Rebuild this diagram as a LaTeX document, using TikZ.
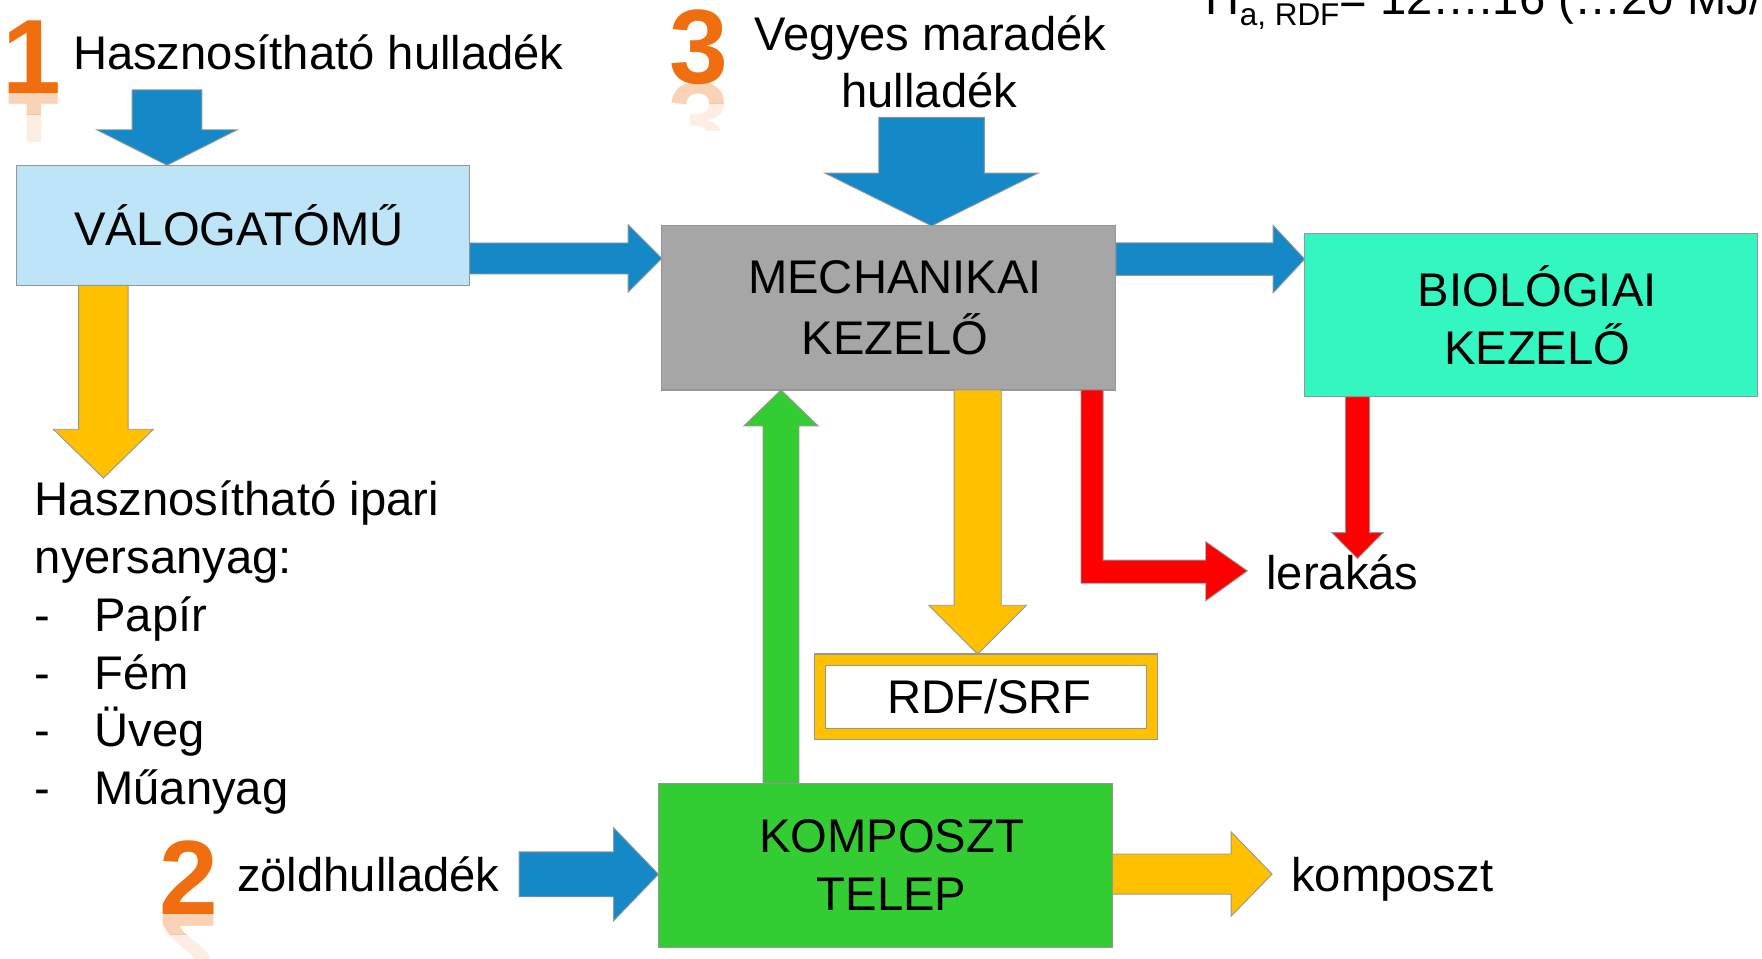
\documentclass[tikz,border=0pt]{standalone}
\usepackage{fontspec}
\setmainfont{Liberation Sans}
\usepackage{graphicx}
\usetikzlibrary{calc}
\definecolor{ablue}{RGB}{21,137,200}
\definecolor{ayellow}{RGB}{255,192,0}
\definecolor{agreen}{RGB}{51,204,51}
\definecolor{ared}{RGB}{255,0,0}
\definecolor{valoblue}{RGB}{189,228,247}
\definecolor{mechgray}{RGB}{166,166,166}
\definecolor{bioaqua}{RGB}{51,246,193}
\definecolor{edgegray}{RGB}{150,150,150}
\definecolor{digitorange}{RGB}{240,110,15}
\newcommand\fs{\fontsize{21}{26}\selectfont}
\newcommand\dashitem[1]{\makebox[26.5pt][l]{-}#1}
\newcommand\rs{\hspace*{5.5pt}}
\tikzset{
  box/.style={draw=edgegray, line width=0.5pt, inner sep=0pt, outer sep=0pt, align=center, font=\fs},
  lbl/.style={inner sep=0pt, outer sep=0pt, font=\fs},
  digit/.style={inner sep=0pt, outer sep=0pt, font=\fontsize{47}{47}\selectfont\bfseries, text=digitorange},
  arrowedge/.style={draw=edgegray, line width=0.4pt, line join=miter},
}
% #1 colour, #2 from, #3 to (tip), #4 shaft half width, #5 head half width, #6 head length
\newcommand\blockarrow[6]{%
  \path (#2) coordinate (ba) (#3) coordinate (bb);
  \path ($(bb)!#6!(ba)$) coordinate (bh);
  \filldraw[arrowedge, fill=#1] ($(ba)!#4!90:(bb)$) -- ($(bh)!#4!90:(bb)$) -- ($(bh)!#5!90:(bb)$) -- (bb)
    -- ($(bh)!#5!-90:(bb)$) -- ($(bh)!#4!-90:(bb)$) -- ($(ba)!#4!-90:(bb)$) -- cycle;
}
% #1 name, #2 base point, #3 digit
\newcommand\digitrefl[3]{%
  \node[digit, anchor=base] (#1) at (#2) {#3};
  \begin{scope}
    \clip ($(#2)+(-40,0)$) rectangle ($(#2)+(40,18)$);
    \node[digit, anchor=base, opacity=0.3] (#1ra) at (#2) {\scalebox{1}[-1]{#3}};
  \end{scope}
  \begin{scope}
    \clip ($(#2)+(-40,18)$) rectangle ($(#2)+(40,42)$);
    \node[digit, anchor=base, opacity=0.12] (#1rb) at (#2) {\scalebox{1}[-1]{#3}};
  \end{scope}
}
\begin{document}
\begin{tikzpicture}[x=0.5pt,y=-0.5pt]
\useasboundingbox (0,0) rectangle (1568,853);

% boxes
\node[box, fill=valoblue, minimum width=201.5pt, minimum height=53.5pt] (valo) at (216.5,200.5) {VÁLOGATÓMŰ\hspace*{4pt}};
\node[box, fill=mechgray, minimum width=202pt, minimum height=73pt] (mech) at (791,274) {\rs MECHANIKAI\\[1pt]\rs KEZELŐ};
\node[box, fill=bioaqua, minimum width=201.5pt, minimum height=72.5pt] (bio) at (1362.5,280.5) {\rs BIOLÓGIAI\\\rs KEZELŐ};
\node[box, fill=agreen, minimum width=202pt, minimum height=73pt] (komp) at (788,770) {\rs KOMPOSZT\\\rs TELEP};
\node[box, fill=ayellow, minimum width=152.5pt, minimum height=38pt,
  path picture={\draw[fill=white, draw=edgegray, line width=0.5pt]
    ([shift={(4.8pt,-5pt)}]path picture bounding box.north west) rectangle
    ([shift={(-4.8pt,5pt)}]path picture bounding box.south east);}] (rdf) at (877.5,620) {\hspace*{3pt}RDF/SRF};

% labels
\digitrefl{d1}{28,83.5}{1}
\node[lbl, anchor=base west] (hh) at (65,62) {Hasznosítható hulladék};
\digitrefl{d3}{621.5,74}{3}
\node[lbl, anchor=base] (veg1) at (828,45) {Vegyes maradék};
\node[lbl, anchor=base] (veg2) at (827,96) {hulladék};
\digitrefl{d2}{168,813.6}{2}
\node[lbl, anchor=base west] (zold) at (211,793.5) {zöldhulladék};
\node[lbl, anchor=base west] (komposzt) at (1149,793.5) {komposzt};
\node[lbl, anchor=base west] (lerakas) at (1127,525) {lerakás};
\node[lbl, anchor=base west] (ip1) at (31,459) {Hasznosítható ipari};
\node[lbl, anchor=base west] (ip2) at (31,510.5) {nyersanyag:};
\node[lbl, anchor=base west] (ip3) at (31,561.7) {\dashitem{Papír}};
\node[lbl, anchor=base west] (ip4) at (31,613.2) {\dashitem{Fém}};
\node[lbl, anchor=base west] (ip5) at (31,664.6) {\dashitem{Üveg}};
\node[lbl, anchor=base west] (ip6) at (31,716) {\dashitem{Műanyag}};
\begin{scope}
  \clip (0,0) rectangle (1568,853);
  \node[lbl, anchor=base west] (hrdf) at (1073,13) {H\raisebox{-5pt}{\fontsize{14}{14}\selectfont a, RDF}= 12….16 (…20 MJ/kg)};
\end{scope}

% free ends
\coordinate (in1) at (148.6,80);
\coordinate (in3) at (829,104.5);
\coordinate (in2) at (462,778);
\coordinate (out1) at (92,425.5);
\coordinate (out4) at (1132,777.8);
\coordinate (out5) at (1208,497);
\coordinate (xr) at (870,0);
\coordinate (xg) at (695,0);
\coordinate (xb) at (1208,0);
\coordinate (yvm) at (0,230);
\coordinate (ymb) at (0,230.6);
\coordinate (yk) at (0,777.8);
\coordinate (ltip) at (1110,508);

% arrows
\blockarrow{ablue}{in1}{valo.north -| in1}{15.5pt}{31.25pt}{15.75pt}
\blockarrow{ablue}{in3}{mech.north -| in3}{23.5pt}{47.5pt}{23.5pt}
\blockarrow{ablue}{valo.east |- yvm}{mech.west |- yvm}{6.9pt}{15pt}{15pt}
\blockarrow{ablue}{mech.east |- ymb}{bio.west |- ymb}{7.25pt}{15pt}{14pt}
\blockarrow{ayellow}{valo.south -| out1}{out1}{11pt}{22.25pt}{21.75pt}
\blockarrow{ayellow}{mech.south -| xr}{rdf.north -| xr}{10.5pt}{21.75pt}{21.7pt}
\blockarrow{agreen}{komp.north -| xg}{mech.south -| xg}{8pt}{16.5pt}{16pt}
\blockarrow{ared}{bio.south -| xb}{out5}{5.4pt}{11.4pt}{11.5pt}
\blockarrow{ablue}{in2}{komp.west |- in2}{10pt}{20.75pt}{20pt}
\blockarrow{ayellow}{komp.east |- yk}{out4}{8.9pt}{18.75pt}{18.2pt}
% red L-shaped arrow
\filldraw[arrowedge, fill=ared] (mech.south -| 962,0) -- (962,519) -- (1073,519) -- (1073,534.6) -- (ltip)
  -- (1073,482) -- (1073,498.4) -- (981.6,498.4) -- (mech.south -| 981.6,0) -- cycle;
\end{tikzpicture}
\end{document}
